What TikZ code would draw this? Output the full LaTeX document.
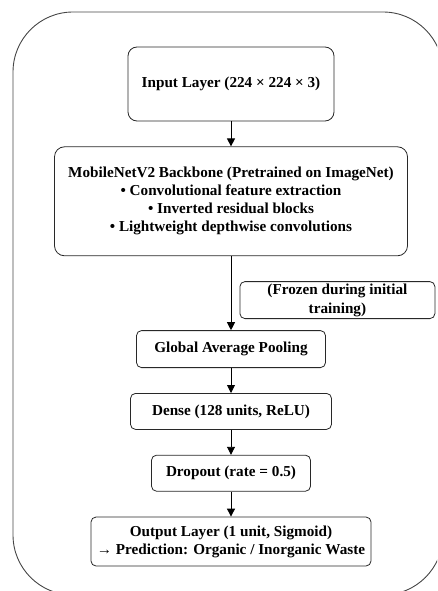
\documentclass[tikz,border=0pt]{standalone}
\usepackage{fontspec}
\setmainfont{Liberation Serif}
\usetikzlibrary{arrows.meta, positioning}
\definecolor{myline}{RGB}{40,40,40}
\definecolor{myframe}{RGB}{70,70,70}
\tikzset{
  layer/.style={rectangle, draw=myline, fill=white, align=center,
    font=\fontsize{15.2}{18}\selectfont\bfseries, rounded corners=5pt,
    line width=0.8pt, inner sep=1pt},
  arrow/.style={-{Triangle[length=8pt,width=8pt]}, line width=0.9pt, color=black}
}
\begin{document}
\begin{tikzpicture}
  \useasboundingbox (0,0) rectangle (437pt,-591pt);
  \begin{scope}
    \clip (0,0) rectangle (437pt,-591pt);
    \draw[myframe, line width=0.9pt, rounded corners=60pt] (13pt,-12pt) rectangle (443pt,-595pt);
  \end{scope}

  \node[layer, minimum width=206pt, minimum height=74pt, rounded corners=9pt] (input) at (231pt,-84pt)
    {Input Layer (224 × 224 × 3)};
  \node[layer, below=25pt of input, minimum width=353pt, minimum height=109pt, rounded corners=10pt] (backbone)
    {MobileNetV2 Backbone (Pretrained on ImageNet)\\• Convolutional feature extraction\\• Inverted residual blocks\\• Lightweight depthwise convolutions};
  \node[layer, below right=25pt and 8.5pt of backbone.south, minimum width=195pt, minimum height=37pt,
    font=\fontsize{15.2}{19}\selectfont\bfseries] (frozen)
    {(Frozen during initial\\training)};
  \node[layer, below=74pt of backbone, minimum width=189pt, minimum height=37pt] (gap) {Global Average Pooling};
  \node[layer, below=25pt of gap, minimum width=201pt, minimum height=36pt] (dense) {Dense (128 units, ReLU)};
  \node[layer, below=25pt of dense, minimum width=159pt, minimum height=36pt] (dropout) {Dropout (rate = 0.5)};
  \node[layer, below=25pt of dropout, minimum width=280pt, minimum height=49pt] (output)
    {Output Layer (1 unit, Sigmoid)\\→ Prediction: Organic / Inorganic Waste};

  \draw[arrow] (input) -- (backbone);
  \draw[arrow] (backbone) -- (gap);
  \draw[arrow] (gap) -- (dense);
  \draw[arrow] (dense) -- (dropout);
  \draw[arrow] (dropout) -- (output);
\end{tikzpicture}
\end{document}
